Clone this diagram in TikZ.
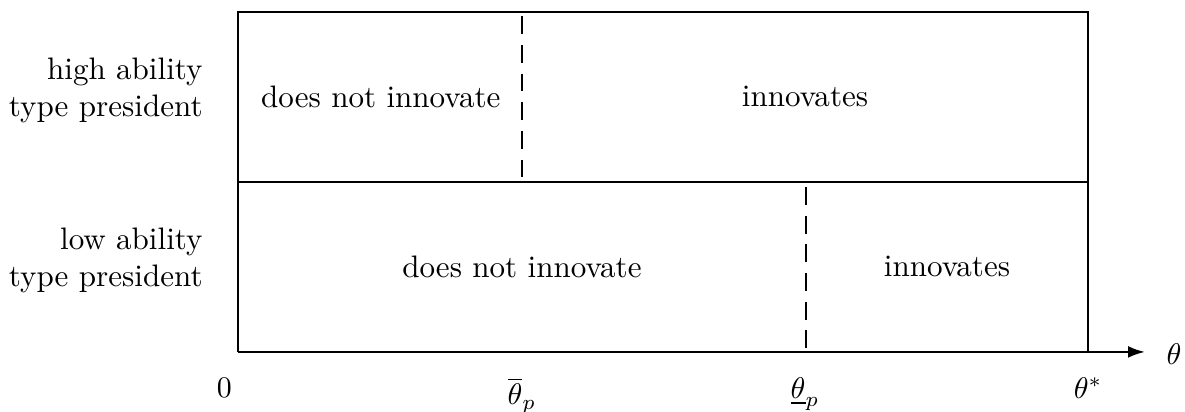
\documentclass[tikz,border=0pt]{standalone}
\usepackage{xcolor}
\usepackage{tikz}
\usetikzlibrary{arrows.meta}
\tikzset{
  frameline/.style={line width=0.8pt, draw=black},
  cutline/.style={line width=0.8pt, dash pattern=on 6pt off 3.6pt},
  axisarrow/.style={-{Latex[length=2mm,width=1.4mm]}, line width=0.8pt},
  rowlabel/.style={align=right, anchor=east, inner sep=0pt},
  regionlabel/.style={inner sep=0pt},
  ticklabel/.style={anchor=north, inner sep=0pt}
}

\begin{document}
\begin{tikzpicture}[x=1cm,y=1cm, font=\fontsize{10.4pt}{12.5pt}\selectfont]
  \useasboundingbox (-2.8,-0.706) rectangle (11.14,4.14);

  % frame corners
  \coordinate (origin) at (0,0);
  \coordinate (starend) at (10,0);
  \coordinate (topleft) at (0,4);
  \coordinate (topright) at (10,4);
  \coordinate (midleft) at (0,2);
  \coordinate (midright) at (10,2);
  \coordinate (axisend) at (10.67,0);

  % frame and axis
  \draw[frameline] (origin) -- (topleft) -- (topright) -- (starend);
  \draw[frameline] (midleft) -- (midright);
  \draw[axisarrow] (origin) -- (axisend);

  % thresholds
  \coordinate (hightop) at (3.34,3.95);
  \coordinate (highbot) at (3.34,2.05);
  \coordinate (lowtop) at (6.68,1.94);
  \coordinate (lowbot) at (6.68,0.05);
  \draw[cutline] (hightop) -- (highbot);
  \draw[cutline] (lowtop) -- (lowbot);

  % row labels
  \node[rowlabel] (hightype) at (-0.41,3.08) {high ability\\type president};
  \node[rowlabel] (lowtype) at (-0.41,1.08) {low ability\\type president};

  % regions
  \node[regionlabel] (highnot) at (1.68,3.0) {does not innovate};
  \node[regionlabel] (highinn) at (6.67,3.0) {innovates};
  \node[regionlabel] (lownot) at (3.34,1.0) {does not innovate};
  \node[regionlabel] (lowinn) at (8.34,1.0) {innovates};

  % axis labels
  \node[ticklabel] (zero) at (-0.16,-0.30) {$0$};
  \node[ticklabel] (thetabar) at (3.34,-0.30) {$\overline{\theta}_p$};
  \node[ticklabel] (thetaunder) at (6.67,-0.30) {$\underline{\theta}_p$};
  \node[ticklabel] (thetastar) at (10.0,-0.30) {$\theta^*$};
  \node[anchor=base, inner sep=0pt] (theta) at (11.01,-0.15) {$\theta$};
\end{tikzpicture}
\end{document}
